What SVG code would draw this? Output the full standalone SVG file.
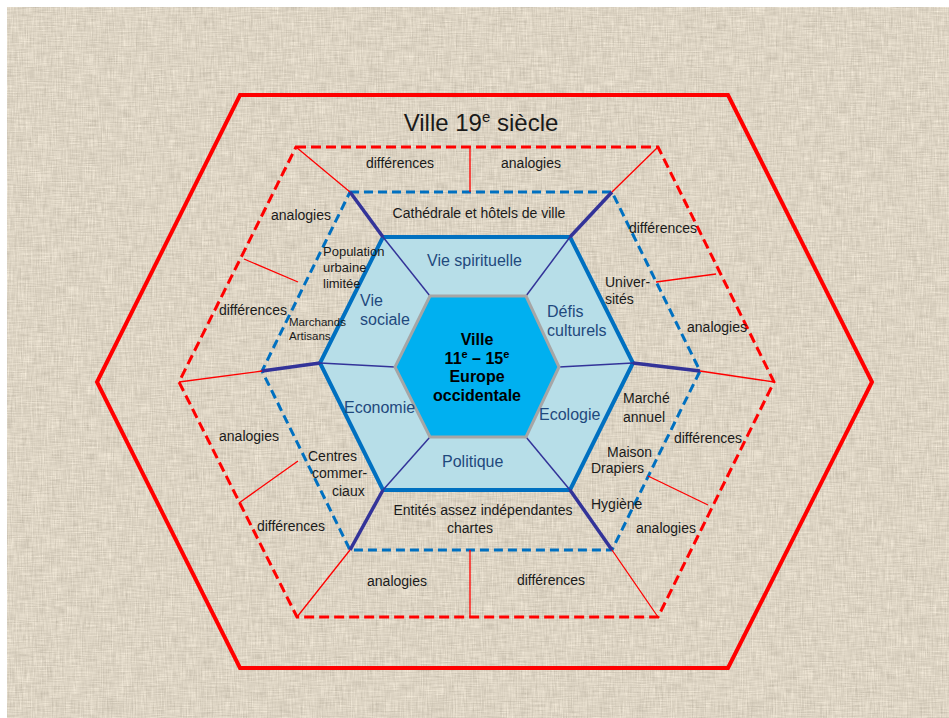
<svg xmlns="http://www.w3.org/2000/svg" width="949" height="718" viewBox="0 0 949 718">
  <defs>
    <!-- woven canvas background: crossed streaky noise tinted beige -->
    <filter id="weave" x="0" y="0" width="100%" height="100%" color-interpolation-filters="sRGB">
      <feTurbulence type="fractalNoise" baseFrequency="0.8 0.06" numOctaves="2" seed="3" result="warp"/>
      <feTurbulence type="fractalNoise" baseFrequency="0.06 0.8" numOctaves="2" seed="11" result="weft"/>
      <feComposite in="warp" in2="weft" operator="arithmetic" k2="0.5" k3="0.5" result="cloth"/>
      <feColorMatrix in="cloth" type="matrix" values="0.3 0 0 0 0.715  0.3 0 0 0 0.68  0.3 0 0 0 0.615  0 0 0 0 1"/>
    </filter>
    <style>
      .t { font-family: "Liberation Sans", Arial, sans-serif; font-size: 14px; fill: #1a1a1a; }
      .s { font-family: "Liberation Sans", Arial, sans-serif; font-size: 13px; fill: #1a1a1a; }
      .xs { font-family: "Liberation Sans", Arial, sans-serif; font-size: 11.5px; fill: #1a1a1a; }
      .cat { font-family: "Liberation Sans", Arial, sans-serif; font-size: 16px; fill: #1f497d; }
      .core { font-family: "Liberation Sans", Arial, sans-serif; font-size: 16px; font-weight: bold; fill: #000; text-anchor: middle; }
      .mid { text-anchor: middle; }
      .hexline { fill: none; stroke-linejoin: miter; }
      .spoke { stroke: #333399; stroke-width: 1.5; fill: none; }
      .spoke-thick { stroke: #333399; stroke-width: 3.5; fill: none; }
      .divider { stroke: #ff0000; stroke-width: 1.3; fill: none; }
    </style>
  </defs>

  <rect width="949" height="718" fill="#ffffff"/>
  <rect x="7" y="7" width="942" height="711" fill="#dbd2c2" filter="url(#weave)"/>

  <!-- outer frame: 19th century city -->
  <g id="ville-19e">
    <polygon class="hexline" points="240,95 728,95 872,382 728,668 240,668 97,382" stroke="#ff0000" stroke-width="4"/>
    <text class="t" x="481" y="131" text-anchor="middle" style="font-size:24px">Ville 19<tspan dy="-9" style="font-size:15px">e</tspan><tspan dy="9"> siècle</tspan></text>
  </g>

  <!-- comparison ring (analogies / différences) -->
  <g id="ring-comparison">
    <polygon class="hexline" points="296,147 658,147 774,382 658,617 297,617 179,382" stroke="#ff0000" stroke-width="3" stroke-dasharray="10 5"/>
  </g>

  <!-- examples ring -->
  <g id="ring-examples">
    <polygon class="hexline" points="350,192 612,192 700,371 612,550 350,550 262,371" stroke="#0070c0" stroke-width="3" stroke-dasharray="9 5"/>
  </g>

  <!-- themes ring -->
  <g id="ring-themes">
    <polygon points="383,237 570,237 633,363 570,490 383,490 320,363" fill="#b7dee8" stroke="#0070c0" stroke-width="4"/>
  </g>

  <!-- connectors: spokes and separators -->
  <g id="connectors">
    <!-- inner spokes -->
    <line class="spoke" x1="430" y1="296" x2="383" y2="237"/>
    <line class="spoke" x1="526" y1="296" x2="570" y2="237"/>
    <line class="spoke" x1="559" y1="367" x2="633" y2="363"/>
    <line class="spoke" x1="526" y1="437" x2="570" y2="490"/>
    <line class="spoke" x1="430" y1="437" x2="383" y2="490"/>
    <line class="spoke" x1="395" y1="367" x2="320" y2="363"/>
    <!-- middle spokes -->
    <line class="spoke-thick" x1="383" y1="237" x2="350" y2="192"/>
    <line class="spoke-thick" x1="570" y1="237" x2="612" y2="192"/>
    <line class="spoke-thick" x1="633" y1="363" x2="700" y2="371"/>
    <line class="spoke-thick" x1="570" y1="490" x2="612" y2="550"/>
    <line class="spoke-thick" x1="383" y1="490" x2="350" y2="550"/>
    <line class="spoke-thick" x1="320" y1="363" x2="262" y2="371"/>
    <!-- outer spokes -->
    <line class="divider" x1="350" y1="192" x2="296" y2="147"/>
    <line class="divider" x1="612" y1="192" x2="658" y2="147"/>
    <line class="divider" x1="700" y1="371" x2="774" y2="382"/>
    <line class="divider" x1="612" y1="550" x2="658" y2="617"/>
    <line class="divider" x1="350" y1="550" x2="297" y2="617"/>
    <line class="divider" x1="262" y1="371" x2="179" y2="382"/>
    <!-- separators between analogies and différences -->
    <line class="divider" x1="470" y1="147" x2="470" y2="192"/>
    <line class="divider" x1="470" y1="550" x2="470" y2="617"/>
    <line class="divider" x1="244" y1="259" x2="298" y2="282"/>
    <line class="divider" x1="656" y1="282" x2="716" y2="274"/>
    <line class="divider" x1="298" y1="461" x2="239" y2="503"/>
    <line class="divider" x1="648" y1="476" x2="708" y2="505"/>
  </g>

  <!-- core: medieval city -->
  <g id="ville-medievale">
    <polygon points="430,296 526,296 559,367 526,437 430,437 395,367" fill="#00b0f0" stroke="#a6a6a6" stroke-width="3"/>
    <text class="core" x="477" y="345">Ville</text>
    <text class="core" x="477" y="364">11<tspan dy="-6" style="font-size:11px">e</tspan><tspan dy="6"> – 15</tspan><tspan dy="-6" style="font-size:11px">e</tspan></text>
    <text class="core" x="477" y="382">Europe</text>
    <text class="core" x="477" y="401">occidentale</text>
  </g>

  <!-- themes -->
  <g id="theme-spirituelle"><text class="cat" x="427" y="266">Vie spirituelle</text></g>
  <g id="theme-sociale"><text class="cat" x="360" y="306">Vie</text><text class="cat" x="360" y="325">sociale</text></g>
  <g id="theme-culturels"><text class="cat" x="547" y="317">Défis</text><text class="cat" x="547" y="336">culturels</text></g>
  <g id="theme-economie"><text class="cat" x="344" y="413">Economie</text></g>
  <g id="theme-ecologie"><text class="cat" x="539" y="420">Ecologie</text></g>
  <g id="theme-politique"><text class="cat" x="442" y="467">Politique</text></g>

  <!-- examples -->
  <g id="ex-cathedrale"><text class="t mid" x="479" y="218">Cathédrale et hôtels de ville</text></g>
  <g id="ex-population"><text class="s" x="323" y="256">Population</text><text class="s" x="323" y="272">urbaine</text><text class="s" x="323" y="288">limitée</text></g>
  <g id="ex-marchands"><text class="xs" x="289" y="326">Marchands</text><text class="xs" x="289" y="340">Artisans</text></g>
  <g id="ex-universites"><text class="t" x="605" y="287">Univer-</text><text class="t" x="605" y="304">sités</text></g>
  <g id="ex-centres"><text class="t" x="308" y="461">Centres</text><text class="t" x="312" y="478">commer-</text><text class="t" x="332" y="496">ciaux</text></g>
  <g id="ex-entites"><text class="t mid" x="483" y="515">Entités assez indépendantes</text><text class="t mid" x="470" y="533">chartes</text></g>
  <g id="ex-marche"><text class="t" x="623" y="403">Marché</text><text class="t" x="623" y="422">annuel</text></g>
  <g id="ex-drapiers"><text class="t" x="607" y="457">Maison</text><text class="t" x="591" y="473">Drapiers</text></g>
  <g id="ex-hygiene"><text class="t" x="591" y="509">Hygiène</text></g>

  <!-- comparison labels -->
  <g id="cmp-top-left"><text class="t mid" x="400" y="168">différences</text></g>
  <g id="cmp-top-right"><text class="t mid" x="531" y="168">analogies</text></g>
  <g id="cmp-upper-left-a"><text class="t mid" x="301" y="220">analogies</text></g>
  <g id="cmp-upper-left-d"><text class="t mid" x="253" y="315">différences</text></g>
  <g id="cmp-upper-right-d"><text class="t mid" x="663" y="233">différences</text></g>
  <g id="cmp-upper-right-a"><text class="t mid" x="717" y="332">analogies</text></g>
  <g id="cmp-lower-left-a"><text class="t mid" x="249" y="441">analogies</text></g>
  <g id="cmp-lower-left-d"><text class="t mid" x="291" y="531">différences</text></g>
  <g id="cmp-lower-right-d"><text class="t mid" x="708" y="443">différences</text></g>
  <g id="cmp-lower-right-a"><text class="t mid" x="666" y="533">analogies</text></g>
  <g id="cmp-bottom-left"><text class="t mid" x="397" y="586">analogies</text></g>
  <g id="cmp-bottom-right"><text class="t mid" x="551" y="585">différences</text></g>
</svg>
